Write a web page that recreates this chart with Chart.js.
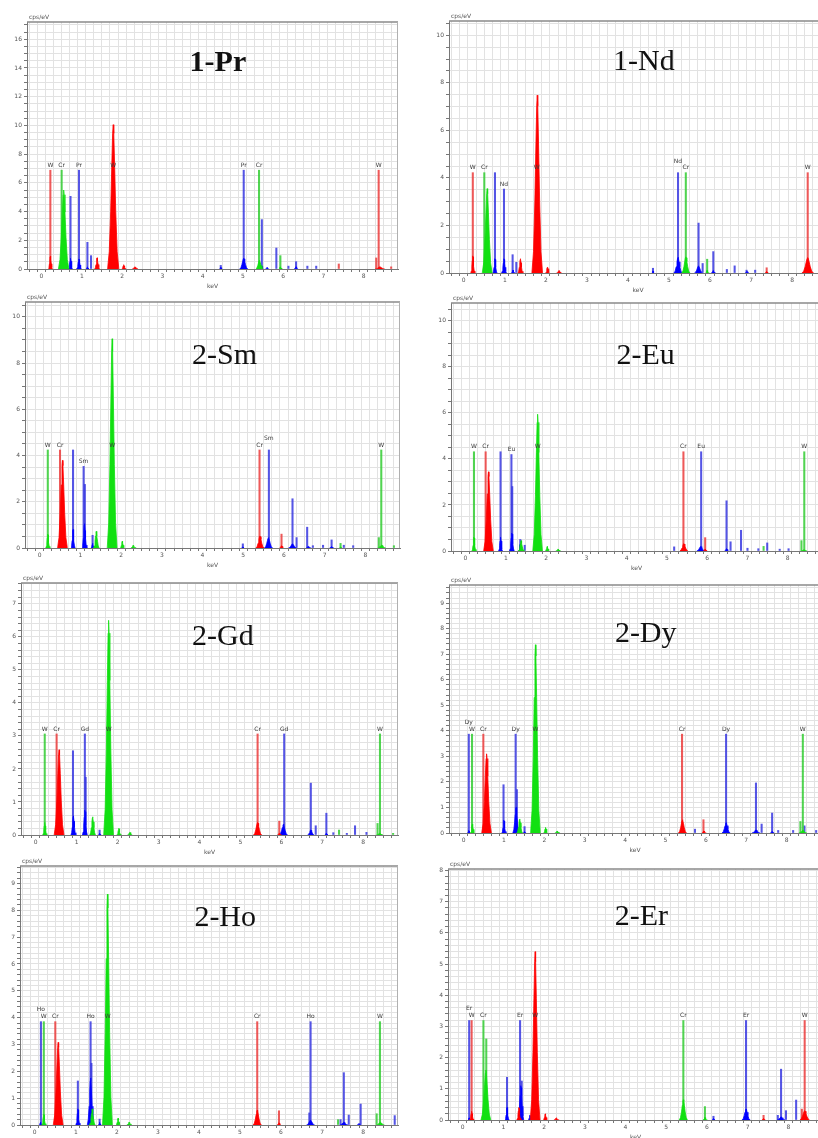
<!DOCTYPE html>
<html><head><meta charset="utf-8">
<script src="https://cdn.jsdelivr.net/npm/chart.js@4.4.1/dist/chart.umd.min.js"></script>
<style>
html,body{margin:0;padding:0;background:#fff;overflow:hidden;width:818px;height:1138px;position:relative;}
canvas{position:absolute;}
</style></head><body>
<canvas id="c0"></canvas><canvas id="c1"></canvas><canvas id="c2"></canvas><canvas id="c3"></canvas>
<canvas id="c4"></canvas><canvas id="c5"></canvas><canvas id="c6"></canvas><canvas id="c7"></canvas>
<script>
// ---------- shared tick labels ----------
const xTickLabels = [0,1,2,3,4,5,6,7,8];
const yTickLabelsPr = [0,2,4,6,8,10,12,14,16];
const yTickLabels10 = [0,2,4,6,8,10];
const yTickLabelsGd = [0,1,2,3,4,5,6,7];
const yTickLabels9 = [0,1,2,3,4,5,6,7,8,9];
const yTickLabelsEr = [0,1,2,3,4,5,6,7,8];
const panelTitles = ['1-Pr','1-Nd','2-Sm','2-Eu','2-Gd','2-Dy','2-Ho','2-Er'];

// peaks: [centre keV, height cps/eV, half-width keV]; lines: [keV, height]; labels: [keV, height, text]
// ---------- 1-Pr ----------
const prRedPeaks = [[0.22,0.9,0.05],[1.38,0.78,0.06],[1.78,10.05,0.14],[2.04,0.3,0.05],[2.32,0.15,0.07],[8.40,0.15,0.12]];
const prGreenPeaks = [[0.55,5.5,0.13],[5.41,0.6,0.09],[5.93,0.15,0.04]];
const prBluePeaks = [[0.72,0.75,0.05],[0.93,0.7,0.06],[1.14,0.15,0.04],[4.45,0.12,0.03],[5.02,0.75,0.1],[5.47,0.2,0.04],[5.60,0.1,0.04],[6.32,0.15,0.05]];
const prRedLines = [[0.22,6.88],[1.78,6.88],[7.38,0.35],[8.31,0.77],[8.37,6.88],[8.68,0.15]];
const prGreenLines = [[0.50,6.88],[5.40,6.88],[5.93,0.93]];
const prBlueLines = [[0.72,5.06],[0.93,6.88],[1.14,1.86],[1.23,0.93],[4.45,0.25],[5.02,6.88],[5.47,3.44],[5.83,1.46],[6.13,0.2],[6.32,0.51],[6.60,0.2],[6.82,0.2]];
const prLabels = [[0.22,7.0,'W'],[0.50,7.0,'Cr'],[0.93,7.0,'Pr'],[1.78,7.0,'W'],[5.02,7.0,'Pr'],[5.40,7.0,'Cr'],[8.37,7.0,'W']];
// ---------- 1-Nd ----------
const ndRedPeaks = [[0.22,0.72,0.05],[1.38,0.6,0.06],[1.79,7.48,0.13],[2.04,0.25,0.05],[2.32,0.1,0.06],[7.38,0.06,0.04],[8.38,0.65,0.14]];
const ndGreenPeaks = [[0.57,3.55,0.12],[5.41,0.68,0.1],[5.93,0.1,0.04]];
const ndBluePeaks = [[0.76,0.6,0.05],[0.98,0.6,0.06],[1.20,0.12,0.04],[4.61,0.08,0.03],[5.22,0.65,0.1],[5.72,0.3,0.1],[6.08,0.1,0.05],[6.90,0.06,0.05]];
const ndRedLines = [[0.22,4.22],[1.78,4.22],[7.38,0.22],[8.38,4.22]];
const ndGreenLines = [[0.50,4.22],[5.41,4.22],[5.93,0.58]];
const ndBlueLines = [[0.76,4.22],[0.98,3.53],[1.19,0.77],[1.28,0.45],[4.61,0.2],[5.22,4.22],[5.72,2.1],[5.82,0.4],[6.08,0.9],[6.41,0.15],[6.60,0.3],[6.89,0.12],[7.10,0.12]];
const ndLabels = [[0.22,4.32,'W'],[0.50,4.32,'Cr'],[0.98,3.62,'Nd'],[1.78,4.32,'W'],[5.22,4.6,'Nd'],[5.41,4.32,'Cr'],[8.38,4.32,'W']];
// ---------- 2-Sm ----------
const smGreenPeaks = [[0.20,0.6,0.05],[1.39,0.72,0.07],[1.78,9.05,0.12],[2.03,0.3,0.05],[2.30,0.12,0.06],[7.39,0.05,0.03],[8.40,0.12,0.1]];
const smRedPeaks = [[0.56,3.79,0.12],[5.41,0.52,0.1],[5.94,0.1,0.05]];
const smBluePeaks = [[0.82,0.8,0.05],[1.10,1.05,0.06],[1.30,0.2,0.04],[4.99,0.05,0.03],[5.62,0.45,0.1],[6.21,0.18,0.1],[6.60,0.07,0.06],[7.17,0.06,0.05]];
const smGreenLines = [[0.20,4.24],[1.78,4.24],[7.39,0.2],[8.33,0.45],[8.39,4.24],[8.70,0.1]];
const smRedLines = [[0.50,4.24],[5.40,4.24],[5.94,0.6]];
const smBlueLines = [[0.82,4.24],[1.08,3.53],[1.11,2.75],[1.30,0.55],[4.99,0.18],[5.63,4.24],[6.21,2.13],[6.31,0.45],[6.57,0.9],[6.71,0.1],[6.96,0.12],[7.17,0.35],[7.47,0.12],[7.70,0.1]];
const smLabels = [[0.20,4.34,'W'],[0.50,4.34,'Cr'],[1.08,3.62,'Sm'],[1.78,4.34,'W'],[5.40,4.34,'Cr'],[5.63,4.62,'Sm'],[8.39,4.34,'W']];
// ---------- 2-Eu ----------
const euGreenPeaks = [[0.21,0.6,0.05],[1.38,0.45,0.07],[1.79,5.94,0.12],[2.03,0.2,0.05],[2.30,0.08,0.06],[8.40,0.05,0.08]];
const euRedPeaks = [[0.57,3.44,0.12],[5.42,0.32,0.1],[5.95,0.08,0.05]];
const euBluePeaks = [[0.87,0.6,0.05],[1.15,0.78,0.06],[1.36,0.3,0.04],[5.84,0.2,0.1],[6.48,0.1,0.05]];
const euGreenLines = [[0.21,4.31],[1.79,4.31],[7.40,0.2],[8.34,0.45],[8.41,4.31]];
const euRedLines = [[0.50,4.31],[5.41,4.31],[5.95,0.58]];
const euBlueLines = [[0.87,4.31],[1.14,4.19],[1.16,2.8],[1.36,0.5],[1.47,0.25],[5.18,0.18],[5.85,4.31],[6.48,2.18],[6.58,0.4],[6.84,0.9],[7.00,0.12],[7.27,0.1],[7.49,0.35],[7.80,0.08],[8.02,0.1]];
const euLabels = [[0.21,4.41,'W'],[0.50,4.41,'Cr'],[1.14,4.29,'Eu'],[1.79,4.41,'W'],[5.41,4.41,'Cr'],[5.85,4.41,'Eu'],[8.41,4.41,'W']];
// ---------- 2-Gd ----------
const gdGreenPeaks = [[0.22,0.38,0.05],[1.39,0.55,0.07],[1.78,6.5,0.12],[2.03,0.2,0.05],[2.30,0.08,0.06],[8.40,0.05,0.08]];
const gdRedPeaks = [[0.57,2.58,0.12],[5.42,0.38,0.1],[5.95,0.05,0.05]];
const gdBluePeaks = [[0.92,0.58,0.06],[1.20,0.75,0.06],[1.56,0.05,0.03],[6.05,0.32,0.1],[6.72,0.15,0.08],[7.10,0.05,0.04]];
const gdGreenLines = [[0.22,3.06],[1.78,3.06],[7.41,0.15],[8.35,0.35],[8.41,3.06],[8.73,0.05]];
const gdRedLines = [[0.51,3.06],[5.42,3.06],[5.95,0.42]];
const gdBlueLines = [[0.91,2.55],[1.20,3.06],[1.22,1.75],[1.56,0.15],[6.07,3.06],[6.72,1.57],[6.84,0.28],[7.10,0.66],[7.27,0.07],[7.60,0.05],[7.80,0.28],[8.08,0.08]];
const gdLabels = [[0.22,3.13,'W'],[0.51,3.13,'Cr'],[1.20,3.13,'Gd'],[1.78,3.13,'W'],[5.42,3.13,'Cr'],[6.07,3.13,'Gd'],[8.41,3.13,'W']];
// ---------- 2-Dy ----------
const dyGreenPeaks = [[0.22,0.35,0.05],[1.39,0.55,0.07],[1.78,7.37,0.12],[2.03,0.22,0.05],[2.32,0.08,0.06],[8.40,0.1,0.1]];
const dyRedPeaks = [[0.57,3.1,0.12],[5.42,0.52,0.1],[5.95,0.08,0.05]];
const dyBluePeaks = [[0.13,0.1,0.03],[1.00,0.5,0.05],[1.30,1.0,0.08],[1.51,0.05,0.03],[6.50,0.4,0.1],[7.24,0.12,0.1],[7.64,0.05,0.05]];
const dyGreenLines = [[0.21,3.87],[1.78,3.87],[8.34,0.45],[8.40,3.87]];
const dyRedLines = [[0.49,3.87],[5.41,3.87],[5.94,0.52]];
const dyBlueLines = [[0.13,3.87],[0.99,1.89],[1.29,3.87],[1.32,1.7],[1.51,0.25],[5.73,0.15],[6.50,3.87],[7.24,1.96],[7.38,0.35],[7.64,0.78],[7.79,0.1],[8.16,0.1],[8.44,0.28],[8.73,0.1]];
const dyLabels = [[0.13,4.24,'Dy'],[0.21,3.95,'W'],[0.49,3.95,'Cr'],[1.29,3.95,'Dy'],[1.78,3.95,'W'],[5.41,3.95,'Cr'],[6.50,3.95,'Dy'],[8.40,3.95,'W']];
// ---------- 2-Ho ----------
const hoGreenPeaks = [[0.22,0.4,0.05],[1.40,0.6,0.07],[1.77,8.6,0.12],[2.03,0.25,0.05],[2.30,0.1,0.06],[8.42,0.1,0.1]];
const hoRedPeaks = [[0.57,3.08,0.12],[5.42,0.55,0.1],[5.95,0.08,0.05]];
const hoBluePeaks = [[0.14,0.1,0.03],[1.05,0.6,0.05],[1.36,1.75,0.08],[1.58,0.1,0.03],[6.72,0.18,0.1],[7.53,0.1,0.1],[7.90,0.05,0.05]];
const hoGreenLines = [[0.22,3.85],[1.78,3.85],[7.39,0.2],[8.33,0.42],[8.41,3.85]];
const hoRedLines = [[0.50,3.85],[5.42,3.85],[5.95,0.53]];
const hoBlueLines = [[0.15,3.85],[1.05,1.64],[1.36,3.85],[1.38,2.3],[1.58,0.22],[6.69,0.45],[6.72,3.85],[7.45,0.2],[7.53,1.95],[7.65,0.37],[7.94,0.78],[8.77,0.35]];
const hoLabels = [[0.15,4.2,'Ho'],[0.22,3.95,'W'],[0.50,3.95,'Cr'],[1.36,3.95,'Ho'],[1.78,3.95,'W'],[5.42,3.95,'Cr'],[6.72,3.95,'Ho'],[8.41,3.95,'W']];
// ---------- 2-Er ----------
const erRedPeaks = [[0.22,0.28,0.05],[1.38,0.4,0.05],[1.78,5.4,0.12],[2.03,0.2,0.05],[2.30,0.07,0.06],[7.39,0.05,0.04],[8.40,0.3,0.12]];
const erGreenPeaks = [[0.57,1.6,0.12],[5.42,0.65,0.1],[5.95,0.08,0.05]];
const erBluePeaks = [[0.16,0.07,0.03],[1.09,0.4,0.05],[1.43,1.1,0.07],[1.65,0.15,0.04],[6.16,0.05,0.03],[6.96,0.35,0.1],[7.82,0.1,0.1]];
const erRedLines = [[0.22,3.19],[1.78,3.19],[7.39,0.15],[8.33,0.35],[8.40,3.19]];
const erGreenLines = [[0.51,3.19],[0.58,2.6],[5.42,3.19],[5.95,0.43]];
const erBlueLines = [[0.16,3.19],[1.09,1.37],[1.41,3.19],[1.45,1.25],[6.16,0.12],[6.96,3.19],[7.74,0.15],[7.82,1.63],[7.94,0.3],[8.19,0.64]];
const erLabels = [[0.16,3.5,'Er'],[0.22,3.27,'W'],[0.51,3.27,'Cr'],[1.41,3.27,'Er'],[1.78,3.27,'W'],[5.42,3.27,'Cr'],[6.96,3.27,'Er'],[8.40,3.27,'W']];

// ---------- styling & layout ----------
const PEAK_COL = {red:'#ff0000', green:'#12e012', blue:'#0000ff'};
const LINE_COL = {red:'rgba(235,60,60,0.85)', green:'rgba(50,205,50,0.85)', blue:'rgba(55,55,225,0.85)'};
const PEAK_SHAPE = [[-1,0],[-0.7,0.12],[-0.45,0.4],[-0.25,0.72],[-0.1,0.94],[0,1],[0.1,0.94],[0.25,0.72],[0.45,0.4],[0.7,0.12],[1,0]];
const X_MIN = -0.36, X_MAX = 8.85;
const PAD_L = 32, PAD_T = 14, PAD_B = 24, PAD_R = 2;

const panels = [
 {title:panelTitles[0], bold:true, box:[27,22,398,269], ymax:17.2, yLabels:yTickLabelsPr, yMinor:0.5, tpos:[4.38,0.835],
  peaks:{red:prRedPeaks, green:prGreenPeaks, blue:prBluePeaks}, lines:{red:prRedLines, green:prGreenLines, blue:prBlueLines}, labels:prLabels},
 {title:panelTitles[1], box:[449,21,827,273], ymax:10.6, yLabels:yTickLabels10, yMinor:0.5, tpos:[4.39,0.836],
  peaks:{red:ndRedPeaks, green:ndGreenPeaks, blue:ndBluePeaks}, lines:{red:ndRedLines, green:ndGreenLines, blue:ndBlueLines}, labels:ndLabels},
 {title:panelTitles[2], box:[25,302,400,548], ymax:10.64, yLabels:yTickLabels10, yMinor:0.5, tpos:[4.54,0.78],
  peaks:{red:smRedPeaks, green:smGreenPeaks, blue:smBluePeaks}, lines:{red:smRedLines, green:smGreenLines, blue:smBlueLines}, labels:smLabels},
 {title:panelTitles[3], box:[451,303,822,551], ymax:10.77, yLabels:yTickLabels10, yMinor:0.5, tpos:[4.47,0.785],
  peaks:{red:euRedPeaks, green:euGreenPeaks, blue:euBluePeaks}, lines:{red:euRedLines, green:euGreenLines, blue:euBlueLines}, labels:euLabels},
 {title:panelTitles[4], box:[21,583,398,835], ymax:7.63, yLabels:yTickLabelsGd, yMinor:0.2, tpos:[4.57,0.787],
  peaks:{red:gdRedPeaks, green:gdGreenPeaks, blue:gdBluePeaks}, lines:{red:gdRedLines, green:gdGreenLines, blue:gdBlueLines}, labels:gdLabels},
 {title:panelTitles[5], box:[449,585,821,833], ymax:9.71, yLabels:yTickLabels9, yMinor:0.2, tpos:[4.51,0.80],
  peaks:{red:dyRedPeaks, green:dyGreenPeaks, blue:dyBluePeaks}, lines:{red:dyRedLines, green:dyGreenLines, blue:dyBlueLines}, labels:dyLabels},
 {title:panelTitles[6], box:[20,866,398,1125], ymax:9.65, yLabels:yTickLabels9, yMinor:0.2, tpos:[4.64,0.80],
  peaks:{red:hoRedPeaks, green:hoGreenPeaks, blue:hoBluePeaks}, lines:{red:hoRedLines, green:hoGreenLines, blue:hoBlueLines}, labels:hoLabels},
 {title:panelTitles[7], box:[448,869,823,1120], ymax:8.05, yLabels:yTickLabelsEr, yMinor:0.2, tpos:[4.39,0.81],
  peaks:{red:erRedPeaks, green:erGreenPeaks, blue:erBluePeaks}, lines:{red:erRedLines, green:erGreenLines, blue:erBlueLines}, labels:erLabels}
];

// each peak becomes its own closed segment; a null point separates peaks so no line runs along the baseline
function peakPoints(peaks) {
  const pts = [];
  peaks.slice().sort((a,b)=>a[0]-b[0]).forEach(([c,h,w], k) => {
    if (k > 0) pts.push({x:c - w - 0.001, y:null});
    PEAK_SHAPE.forEach(([dx,dy]) => pts.push({x:c+dx*w, y:h*dy}));
  });
  return pts;
}
const r3 = v => Math.round(v*1000)/1000;

const decoPlugin = {
  id:'deco',
  afterDatasetsDraw(chart, args, o) {
    const {ctx, chartArea:a, scales:{x, y}} = chart;
    ctx.save();
    ctx.beginPath(); ctx.rect(a.left, a.top-20, a.right-a.left, a.bottom-a.top+20); ctx.clip();
    ctx.font = '6px "DejaVu Sans"';
    ctx.fillStyle = '#3a3a3a';
    ctx.textAlign = 'center';
    ctx.textBaseline = 'alphabetic';
    o.labels.forEach(([kv, v, t]) => ctx.fillText(t, x.getPixelForValue(kv), y.getPixelForValue(v) - 1));
    ctx.fillStyle = '#111';
    ctx.font = (o.bold ? 'bold ' : '') + '30px "Liberation Serif"';
    ctx.textBaseline = 'middle';
    ctx.fillText(o.title, x.getPixelForValue(o.tpos[0]), a.bottom - o.tpos[1]*(a.bottom-a.top));
    ctx.restore();
  },
  afterDraw(chart, args, o) {
    const {ctx, chartArea:a} = chart;
    ctx.save();
    ctx.strokeStyle = '#8a8a8a'; ctx.lineWidth = 1.5;
    ctx.beginPath(); ctx.moveTo(a.left, a.top); ctx.lineTo(a.right, a.top); ctx.stroke();
    ctx.strokeStyle = '#b0b0b0'; ctx.lineWidth = 1;
    ctx.beginPath(); ctx.moveTo(a.right-0.5, a.top); ctx.lineTo(a.right-0.5, a.bottom); ctx.stroke();
    ctx.fillStyle = '#555';
    ctx.font = '6px "DejaVu Sans"';
    ctx.textAlign = 'left'; ctx.textBaseline = 'alphabetic';
    ctx.fillText('cps/eV', a.left + 2, a.top - 3);
    ctx.textAlign = 'center';
    ctx.fillText('keV', (a.left + a.right)/2, a.bottom + 19);
    ctx.restore();
  }
};

panels.forEach((p, i) => {
  const [L,T,R,B] = p.box;
  const cv = document.getElementById('c'+i);
  const W = R - L + PAD_L + PAD_R, H = B - T + PAD_T + PAD_B;
  cv.width = W; cv.height = H;
  cv.style.left = (L - PAD_L) + 'px'; cv.style.top = (T - PAD_T) + 'px';
  cv.style.width = W + 'px'; cv.style.height = H + 'px';
  const datasets = [];
  ['red','green','blue'].forEach(c => datasets.push({
    type:'line', data:peakPoints(p.peaks[c]), borderColor:PEAK_COL[c], backgroundColor:PEAK_COL[c],
    borderWidth:0.8, pointRadius:0, tension:0, fill:'origin', spanGaps:false
  }));
  ['red','green','blue'].forEach(c => datasets.push({
    type:'bar', data:p.lines[c].map(([x,y]) => ({x, y})), backgroundColor:LINE_COL[c],
    barThickness:1.4, grouped:false, borderWidth:0
  }));
  new Chart(cv, {
    type:'line',
    data:{datasets},
    plugins:[decoPlugin],
    options:{
      responsive:false, animation:false, devicePixelRatio:1,
      layout:{padding:{top:PAD_T, right:PAD_R, left:0, bottom:0}},
      plugins:{legend:{display:false}, tooltip:{enabled:false},
        deco:{labels:p.labels, title:p.title, bold:!!p.bold, tpos:p.tpos}},
      scales:{
        x:{type:'linear', min:X_MIN, max:X_MAX, offset:false,
          afterFit:s => { s.height = PAD_B; },
          afterBuildTicks:s => { const t=[]; for (let k=-1; k*0.2<=X_MAX; k++) t.push({value:r3(k*0.2)}); s.ticks=t; },
          ticks:{autoSkip:false, maxRotation:0, padding:1, color:'#555', font:{family:'DejaVu Sans', size:6},
            callback:v => xTickLabels.includes(r3(v)) ? String(r3(v)) : ''},
          grid:{color:'#e2e2e2', lineWidth:1, tickColor:'#777', tickLength:3},
          border:{display:true, color:'#777', width:1}},
        y:{type:'linear', min:0, max:p.ymax,
          afterFit:s => { s.width = PAD_L; },
          afterBuildTicks:s => { const t=[]; for (let k=0; k*p.yMinor<=p.ymax; k++) t.push({value:r3(k*p.yMinor)}); s.ticks=t; },
          ticks:{autoSkip:false, padding:2, color:'#555', font:{family:'DejaVu Sans', size:6},
            callback:v => p.yLabels.includes(r3(v)) ? String(r3(v)) : ''},
          grid:{color:'#e2e2e2', lineWidth:1, tickColor:'#777', tickLength:3},
          border:{display:true, color:'#777', width:1}}
      }
    }
  });
});
</script>
</body></html>
